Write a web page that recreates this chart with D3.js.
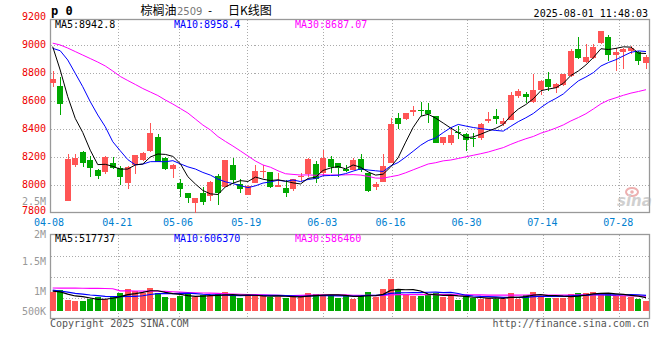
<!DOCTYPE html>
<html><head><meta charset="utf-8">
<script src="https://cdn.jsdelivr.net/npm/d3@7"></script>
<style>
body{margin:0;background:#fff;}
svg{display:block;}
text{font-family:"DejaVu Sans Mono","Liberation Mono",monospace;font-size:10px;}
</style></head><body>
<svg id="c" width="660" height="360"></svg>
<script>
// ---------------- data ----------------
const dates = ["04-08","04-09","04-10","04-11","04-14","04-15","04-16","04-17","04-18","04-21","04-22","04-23","04-24","04-25","04-28","04-29","04-30",
"05-06","05-07","05-08","05-09","05-12","05-13","05-14","05-15","05-16","05-19","05-20","05-21","05-22","05-23","05-26","05-27","05-28","05-29","05-30",
"06-03","06-04","06-05","06-06","06-09","06-10","06-11","06-12","06-13","06-16","06-17","06-18","06-19","06-20","06-23","06-24","06-25","06-26","06-27","06-30",
"07-01","07-02","07-03","07-04","07-07","07-08","07-09","07-10","07-11","07-14","07-15","07-16","07-17","07-18","07-21","07-22","07-23","07-24","07-25","07-28","07-29","07-30","07-31",
"08-01"];
const opens = [8729,8705,7886,8143,8233,8176,8105,8093,8157,8117, 8014,8141,8176,8243,8343,8188,8110,8010,7938,7867,
 7938,7919,8062,7986,8141,8003,7926,8014,8088,8091, 7986,7974,7971,8053,8076,8148,8081,8181,8157,8114,
 8105,8181,8086,7981,8021,8157,8474,8467,8521,8533, 8533,8490,8300,8296,8379,8362,8331,8331,8457,8490,
 8434,8462,8636,8646,8588,8676,8755,8688,8712,8779, 8969,8874,8903,9010,9057,8926,8950,8955,8950,8867];
const highs = [8812,8771,8219,8219,8243,8205,8110,8205,8200,8134, 8134,8212,8236,8443,8362,8195,8148,8038,7943,7903,
 7986,8029,8076,8176,8188,8038,7991,8138,8141,8093, 8081,8033,8038,8081,8188,8171,8248,8205,8157,8141,
 8188,8219,8086,8021,8219,8474,8510,8514,8562,8590, 8581,8490,8343,8403,8419,8371,8367,8443,8521,8538,
 8474,8664,8684,8664,8788,8748,8807,8724,8788,8969, 9057,9003,9003,9098,9069,8974,8974,8993,8955,8926];
const lows = [8700,8498,7886,8124,8129,8053,8039,8076,8110,7998, 7967,8076,8171,8236,8164,8105,8045,7914,7871,7800,
 7855,7886,7855,7981,8014,7943,7926,8010,8045,7974, 7981,7914,7957,8029,8057,8010,8062,8086,8053,8093,
 8105,8093,7950,7962,8021,8153,8395,8462,8490,8490, 8443,8296,8284,8284,8324,8243,8267,8319,8443,8434,
 8419,8462,8621,8581,8581,8641,8669,8653,8707,8771, 8898,8867,8898,9003,8884,8812,8826,8931,8855,8826];
const closes = [8755,8579,8184,8191,8157,8121,8064,8196,8117,8057, 8124,8212,8229,8367,8164,8110,8141,7967,7903,7903,
 7879,8021,7943,8176,8034,7971,7991,8100,8100,7986, 7998,7943,8038,8062,8184,8038,8188,8124,8117,8100,
 8176,8105,7957,8005,8133,8434,8434,8514,8533,8529, 8505,8296,8338,8355,8367,8319,8329,8434,8467,8467,
 8457,8641,8669,8629,8676,8741,8700,8717,8788,8955, 8903,8914,8986,9098,8926,8945,8969,8974,8884,8914];
const volumes = [754000,821000,437000,397000,397000,463000,556000,463000,595000,714000,
 860000,767000,714000,900000,714000,542000,503000,595000,648000,542000,
 608000,582000,661000,741000,608000,516000,582000,622000,622000,556000,
 556000,516000,556000,556000,701000,661000,622000,622000,516000,622000,
 463000,622000,741000,556000,860000,1257000,821000,661000,582000,582000,
 640000,700000,530000,620000,440000,570000,505000,480000,505000,480000,
 480000,715000,480000,640000,760000,600000,505000,505000,505000,680000,
 700000,700000,740000,630000,700000,582000,582000,556000,463000,397000];
// MA values before a full window is available
const ma5Lead = [8986,8819,8629,8474];
const ma10Lead = [8974,8957,8891,8796,8700,8593,8498,8414,8307];
const ma30Lead = [9011,8998,8976,8951,8926,8901,8876,8848,8812,8773,8744,8716,8687,8662,8637,8605,8576,8544,8512,8469,8426,8391,8344,8309,8276,8241,8205,8169,8141];
const volMa5Lead = [780000,745000,660000,585000];
const volMa10Lead = [820000,782000,740000,688000,660000,622000,595000,570000,556000];
const volMa30Lead = [900000,899000,896000,893000,890000,886000,884000,880000,872000,790000,786000,782000,780000,778000,772000,765000,752000,735000,722000,712000,703000,694000,684000,672000,662000,652000,643000,634000,625000];

const priceTicks = [9200,9000,8800,8600,8400,8200,8000,7800];
const volTicks = [2500000,2000000,1500000,1000000,500000];
const volTickLabels = ["2.5M","2M","1.5M","1M","500K"];
const dateTicks = ["04-08","04-21","05-06","05-19","06-03","06-16","06-30","07-14","07-28"];
const priceLegend = ["MA5:8942.8","MA10:8958.4","MA30:8687.07"];
const volLegend = ["MA5:517737","MA10:606370","MA30:586460"];
const maColors = ["#000000","#0000ff","#ff00ff"];
const titleText = ["棕榈油","2509","-","日K线图"];
const symbolText = "p 0";
const timeText = "2025-08-01 11:48:03";
const copyrightText = "Copyright 2025 SINA.COM";
const urlText = "http://finance.sina.com.cn";

// ---------------- helpers ----------------
function movingAvg(vals, n, lead){
  return vals.map((v,i)=> i < n-1 ? lead[i] : d3.mean(vals.slice(i-n+1,i+1)));
}
const RED="#ff5555", GREEN="#00a800", GRID="#aaaaaa", BORDER="#999999";

const svg = d3.select("#c");
const L=50.5, R=649.5, MT=19.5, MB=212.5, VT=234.5, VB=318.5;

// candle positions
const x = d3.scalePoint().domain(dates).range([52.7, 646]);
// date-grid / date-label positions (the axis runs on its own slightly wider spacing)
const xT = d3.scalePoint().domain(dates).range([50, 649.6]);
const yP = d3.scaleLinear().domain([7800,9200]).range([212.7,16.7]);
const yV = d3.scaleLinear().domain([0,1000000]).range([310.7,285.5]);
const yVLab = d3.scaleLinear().domain([500000,2500000]).range([321,201]);

const candles = dates.map((d,i)=>({d, o:opens[i], h:highs[i], l:lows[i], c:closes[i], v:volumes[i], up: closes[i]>=opens[i]}));

// ---------------- grid ----------------
const grid = svg.append("g").attr("stroke",GRID).attr("stroke-dasharray","1,2").attr("shape-rendering","crispEdges");
priceTicks.filter(t=>t<9200 && t>7800).forEach(t=>{
  const yy = Math.round(yP(t))+0.5;
  grid.append("line").attr("x1",L).attr("x2",R).attr("y1",yy).attr("y2",yy);
});
[1,2,3].forEach(k=>{
  const yy = Math.round(VT + k*(VB-VT)/4)+0.5;
  grid.append("line").attr("x1",L).attr("x2",R).attr("y1",yy).attr("y2",yy);
});
dateTicks.slice(1).forEach(d=>{
  const xx = Math.round(xT(d))+0.5;
  grid.append("line").attr("x1",xx).attr("x2",xx).attr("y1",MT).attr("y2",MB);
  grid.append("line").attr("x1",xx).attr("x2",xx).attr("y1",VT).attr("y2",VB);
});

// ---------------- borders ----------------
svg.append("rect").attr("x",L).attr("y",MT).attr("width",R-L).attr("height",MB-MT)
  .attr("fill","none").attr("stroke",BORDER).attr("stroke-width",1.3);
svg.append("rect").attr("x",L).attr("y",VT).attr("width",R-L).attr("height",VB-VT)
  .attr("fill","none").attr("stroke",BORDER).attr("stroke-width",1.3);

// ---------------- candles ----------------
const cg = svg.append("g").attr("shape-rendering","crispEdges");
candles.forEach(k=>{
  const cx = Math.round(x(k.d));
  const col = k.up ? RED : GREEN;
  const yH = Math.round(yP(k.h)), yL = Math.round(yP(k.l));
  cg.append("rect").attr("x",cx-0.5).attr("y",yH).attr("width",1).attr("height",Math.max(1,yL-yH)).attr("fill",col);
  const yT = Math.round(yP(Math.max(k.o,k.c))), yB = Math.round(yP(Math.min(k.o,k.c)));
  cg.append("rect").attr("x",cx-3).attr("y",yT).attr("width",6).attr("height",Math.max(1,yB-yT)).attr("fill",col);
  const vTop = Math.round(yV(k.v));
  cg.append("rect").attr("x",cx-3).attr("y",vTop).attr("width",6).attr("height",Math.round(yV(0))-vTop).attr("fill",col);
});

// ---------------- MA lines ----------------
const priceMAs = [movingAvg(closes,5,ma5Lead), movingAvg(closes,10,ma10Lead), movingAvg(closes,30,ma30Lead)];
const volMAs = [movingAvg(volumes,5,volMa5Lead), movingAvg(volumes,10,volMa10Lead), movingAvg(volumes,30,volMa30Lead)];
const lineP = d3.line().x((v,i)=>x(dates[i])).y(v=>yP(v));
const lineV = d3.line().x((v,i)=>x(dates[i])).y(v=>yV(v));
[2,1,0].forEach(j=>{
  svg.append("path").attr("d",lineP(priceMAs[j])).attr("fill","none").attr("stroke",maColors[j]).attr("stroke-width",1);
  svg.append("path").attr("d",lineV(volMAs[j])).attr("fill","none").attr("stroke",maColors[j]).attr("stroke-width",1.2);
});

// ---------------- axes ----------------
const ax = d3.axisLeft(yP).tickValues(priceTicks).tickSize(0).tickPadding(4).tickFormat(d3.format("d"));
const gAx = svg.append("g").attr("transform","translate(50,0)").call(ax);
gAx.select(".domain").remove();
gAx.selectAll("text").attr("fill","#ee0000").style("font-family",'"DejaVu Sans Mono",monospace').style("font-size","10px")
  .attr("dy", d => d===7800 ? "0.08em" : "0.32em");

const vlab = svg.append("g");
volTicks.forEach((t,i)=>{
  const yy = t===2000000 ? 234 : Math.min(311,yVLab(t));
  vlab.append("text").attr("x",46).attr("y",yy).attr("dy","0.35em")
    .attr("text-anchor","end").attr("fill","#999999").text(volTickLabels[i]);
});

const xa = d3.axisBottom(xT).tickValues(dateTicks).tickSize(0).tickPadding(6);
const gX = svg.append("g").attr("transform","translate(-1.5,212.7)").call(xa);
gX.select(".domain").remove();
gX.selectAll("text").attr("fill","#0080d0").style("font-family",'"DejaVu Sans Mono",monospace').style("font-size","10px");

// ---------------- legends ----------------
const legX = [55,174,295];
priceLegend.forEach((t,i)=>svg.append("text").attr("x",legX[i]).attr("y",27.5).attr("fill",maColors[i]).text(t));
volLegend.forEach((t,i)=>svg.append("text").attr("x",legX[i]).attr("y",242).attr("fill",maColors[i]).text(t));

// ---------------- header ----------------
svg.append("text").attr("x",51).attr("y",15).style("font-weight","bold").style("font-size","12px").attr("fill","#000").text(symbolText);
const cjk = '"Noto Sans CJK SC",sans-serif';
svg.append("text").attr("x",140.5).attr("y",15).style("font-family",cjk).style("font-size","12px").attr("fill","#000").text(titleText[0]);
svg.append("text").attr("x",177).attr("y",15).style("font-family",'"DejaVu Sans",sans-serif').style("font-size","10px").attr("fill","#777").text(titleText[1]);
svg.append("text").attr("x",210).attr("y",14).attr("text-anchor","middle").style("font-size","11px").attr("fill","#000").text(titleText[2]);
svg.append("text").attr("x",228).attr("y",15).style("font-family",cjk).style("font-size","12px").attr("fill","#000").text(titleText[3]);
svg.append("text").attr("x",648).attr("y",16.5).attr("text-anchor","end").attr("fill","#000").text(timeText);

// ---------------- footer ----------------
svg.append("text").attr("x",50).attr("y",327).attr("fill","#555").text(copyrightText);
svg.append("text").attr("x",649).attr("y",327).attr("text-anchor","end").attr("fill","#555").text(urlText);

// ---------------- watermark ----------------
const wm = svg.append("g").attr("opacity",0.55);
wm.append("ellipse").attr("cx",632).attr("cy",192).attr("rx",6).attr("ry",4).attr("fill","none").attr("stroke","#e07070").attr("stroke-width",2);
wm.append("circle").attr("cx",632).attr("cy",192).attr("r",1.8).attr("fill","#e07070");
wm.append("text").attr("x",617).attr("y",206).style("font-family",'"DejaVu Sans",sans-serif').style("font-size","15px").style("font-style","italic").style("font-weight","bold").attr("fill","#aaaaaa").text("sina");
</script>
</body></html>
